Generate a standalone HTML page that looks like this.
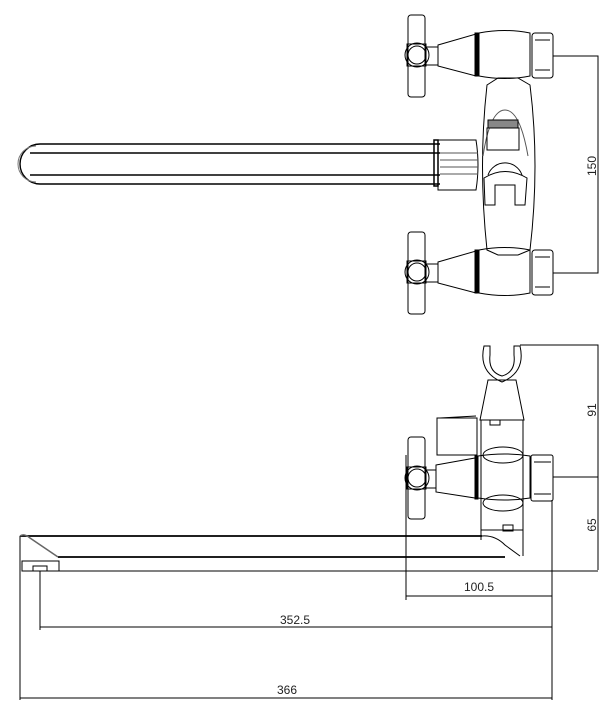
<!DOCTYPE html>
<html><head><meta charset="utf-8"><style>
html,body{margin:0;padding:0;background:#fff;}
svg{display:block;}
svg text{font-family:"Liberation Sans",sans-serif;font-size:12px;fill:#222;stroke:none;font-weight:normal;}
</style></head><body>
<svg width="616" height="728" viewBox="0 0 616 728" xmlns="http://www.w3.org/2000/svg" fill="none" stroke="#000" stroke-width="1">
<!-- ===== TOP VIEW ===== -->
<path d="M440 144 H40 A20 20 0 0 0 40 184 H440" stroke-width="1.4"/>
<path d="M36 146 A18 18 0 0 0 36 182" stroke="#777"/>
<line x1="30" y1="153" x2="440" y2="153" stroke-width="1.4"/>
<line x1="30" y1="175" x2="440" y2="175" stroke-width="1.4"/>
<rect x="434" y="140" width="4" height="46" stroke-width="1.5"/>
<path d="M438 140 H476 Q480 165 476 190 H438 Z"/>
<path d="M440 153 H478 M440 160 H478 M440 167 H478 M440 174 H478" stroke="#555"/>
<path d="M487 85 Q478 165 487 250 L498 255 H518 L530 250 Q540 165 530 85 L518 78 H498 Z"/>
<path d="M483 156 Q490 110 505 110 Q520 110 528 156" stroke="#555"/>
<rect x="488" y="120" width="30" height="8" fill="#888"/>
<rect x="487" y="128" width="32" height="22"/>
<path d="M488 175 A18 18 0 0 1 522 175"/>
<path d="M484 178 Q505 165 527 178 L525 205 H515 V185 H495 V205 H485 Z"/>
<g id="hv">
<rect x="408" y="15" width="17" height="82" rx="3"/>
<rect x="407" y="44" width="19" height="22"/>
<circle cx="417" cy="55" r="12"/>
<circle cx="417" cy="55" r="9"/>
<rect x="426" y="47" width="12" height="18"/>
<path d="M438 45 L476 34 V76 L438 66 Z"/>
<rect x="475" y="33" width="4" height="43" fill="#000"/>
<path d="M479 33 Q505 28 530 33 V76 Q505 81 479 76 Z"/>
<rect x="532" y="33" width="21" height="45" rx="3"/>
<line x1="535" y1="40" x2="550" y2="40"/>
<line x1="535" y1="70" x2="550" y2="70"/>
</g>
<use href="#hv" transform="translate(0,217)"/>
<path d="M553 56 H598 V273 H553"/>
<text transform="translate(596,166) rotate(-90)" text-anchor="middle">150</text>

<!-- ===== SIDE VIEW ===== -->
<path d="M20 536 H482" stroke-width="1.8"/>
<path d="M58 557 H505" stroke-width="1.8"/>
<path d="M20 536 Q24 533 30 538 L58 557" stroke="#666" stroke-width="1.5"/>
<path d="M20 536 V561"/>
<rect x="22" y="561" width="37" height="10"/>
<rect x="33" y="566" width="14" height="5"/>
<path d="M482 536 Q495 535 505 545 L520 556" />
<rect x="481" y="420" width="42" height="110"/>
<rect x="503" y="525" width="10" height="6"/>
<path d="M481 530 V540 M523 530 V556"/>
<path d="M488 380 L480 420 H524 L516 380 Z"/>
<rect x="490" y="420" width="10" height="5"/>
<path d="M484 346 H490 V355 Q488 372 502 376 Q516 372 514 355 V346 H520 Q526 372 502 382 Q478 372 484 346 Z"/>
<rect x="437" y="418" width="40" height="37"/>
<line x1="440" y1="418" x2="476" y2="416"/>
<ellipse cx="503" cy="455" rx="20" ry="8"/>
<ellipse cx="503" cy="503" rx="20" ry="8"/>
<rect x="408" y="437" width="17" height="82" rx="3"/>
<rect x="407" y="467" width="19" height="22"/>
<circle cx="417" cy="478" r="12"/>
<circle cx="417" cy="478" r="9"/>
<rect x="426" y="470" width="10" height="18"/>
<path d="M436 465 L475 458 V498 L436 492 Z"/>
<rect x="475" y="456" width="3" height="43" fill="#000"/>
<path d="M478 456 Q505 452 530 456 V498 Q505 502 478 498 Z"/>
<rect x="531" y="455" width="22" height="46" rx="2"/>
<line x1="534" y1="462" x2="551" y2="462"/>
<line x1="534" y1="494" x2="551" y2="494"/>
<path d="M520 345 H598 V570"/>
<path d="M553 477 H598"/>
<text transform="translate(596,410) rotate(-90)" text-anchor="middle">91</text>
<text transform="translate(596,525) rotate(-90)" text-anchor="middle">65</text>
<line x1="59" y1="571" x2="598" y2="571"/>
<path d="M406 455 V600"/>
<path d="M552 500 V700"/>
<path d="M406 596 H552"/>
<text x="479" y="591" text-anchor="middle">100.5</text>
<path d="M40 571 V630"/>
<path d="M40 627 H552"/>
<text x="295" y="624" text-anchor="middle">352.5</text>
<path d="M20 561 V700"/>
<path d="M20 698 H552"/>
<text x="287" y="694" text-anchor="middle">366</text>
</svg>
</body></html>
